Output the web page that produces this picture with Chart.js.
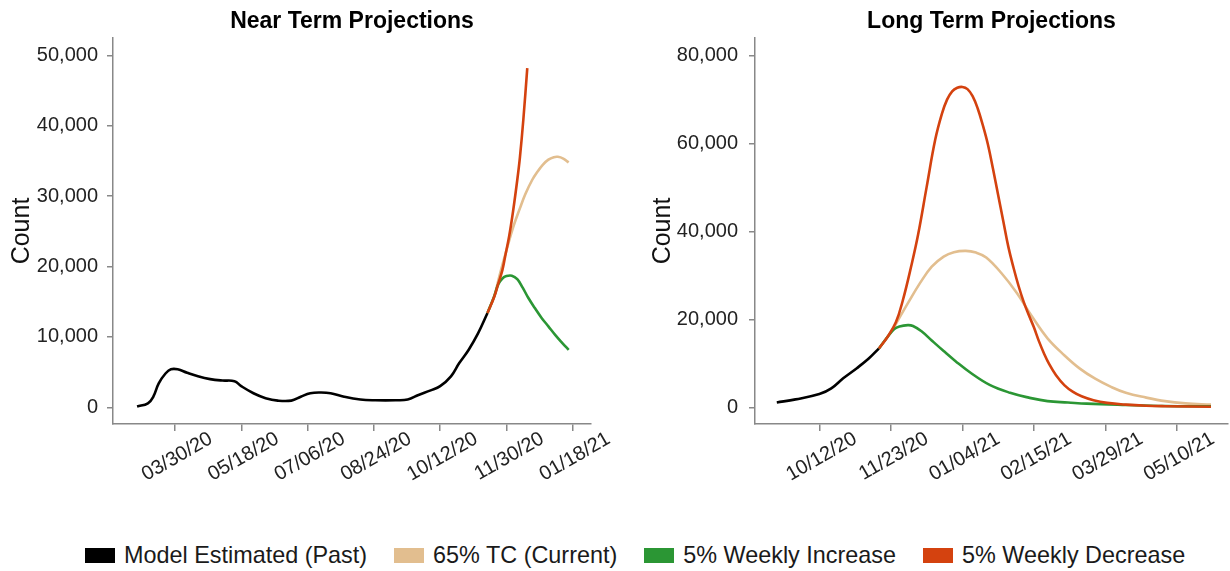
<!DOCTYPE html>
<html>
<head>
<meta charset="utf-8">
<script src="https://cdn.jsdelivr.net/npm/chart.js@4.4.1/dist/chart.umd.min.js"></script>
<style>
html,body{margin:0;padding:0;width:1230px;height:571px;overflow:hidden;background:#fff;font-family:'Liberation Sans',Arial,sans-serif;}
#a{position:absolute;left:0;top:0;}
#b{position:absolute;left:615px;top:0;}
#legend{position:absolute;left:85px;top:540px;height:30px;display:flex;align-items:center;font-size:23.4px;color:#1a1a1a;white-space:nowrap;}
.item{display:flex;align-items:center;margin-right:27px;}
.sw{width:30px;height:15px;margin-right:9px;}
</style>
</head>
<body>
<canvas id="a" width="615" height="500"></canvas>
<canvas id="b" width="615" height="500"></canvas>
<div id="legend"></div>
<script>
// Day numbers are days since 2020-03-30
const DAY0 = [2020, 3, 30];

const seriesNames = ['Model Estimated (Past)', '65% TC (Current)', '5% Weekly Increase', '5% Weekly Decrease'];
const seriesColors = ['#000000', '#E2BE8F', '#2B9634', '#D4420F'];

// ---- Near term panel ----
const nearTickLabels = ['03/30/20','05/18/20','07/06/20','08/24/20','10/12/20','11/30/20','01/18/21'];
const nearYTicks = [0, 10000, 20000, 30000, 40000, 50000];

const nearPastDays  = [-28,-20,-16,-12,-7,-3,2,9,17,26,35,44,49,58,67,76,86,93,100,108,115,125,137,148,163,172,180,189,196,204,210,217,224,231];
const nearPastCount = [100,570,1500,3400,4800,5400,5400,4900,4400,4000,3800,3700,3000,2000,1300,950,950,1500,2000,2100,2000,1500,1100,1000,1000,1100,1750,2400,3000,4400,6250,8150,10500,13400];

const nearTCDays  = [231,236,240,245,250,255,259,264,268,272,276,280,283,287,291];
const nearTCCount = [13400,15800,18800,22300,25600,28300,30300,32300,33500,34500,35200,35550,35600,35350,34800];

const nearIncDays  = [231,236,239,242,245,249,253,257,261,266,271,276,281,286,291];
const nearIncCount = [13400,15800,17500,18300,18650,18700,18200,17000,15600,14100,12700,11500,10300,9200,8150];

const nearDecDays  = [231,236,239,242,244,247,250,253,255,257.5,260.4];
const nearDecCount = [13400,15700,17600,19500,21400,24300,28000,32300,35600,40900,48200];

// ---- Long term panel ----
const longTickLabels = ['10/12/20','11/23/20','01/04/21','02/15/21','03/29/21','05/10/21'];
const longYTicks = [0, 20000, 40000, 60000, 80000];

const longPastDays  = [171,182,196,203,210,218,225,231];
const longPastCount = [1100,1800,3000,4300,6600,8900,11100,13400];

const longTCDays  = [231,236,238,241,248,255,262,269,275,282,288,294,303,312,321,330,340,349,358,367,376,388,399,411,426];
const longTCCount = [13400,16000,17000,19000,23700,28200,32000,34300,35300,35600,35200,34100,30500,26000,20600,15700,11800,8800,6500,4700,3300,2200,1400,900,600];

const longIncDays  = [231,236,240,243,248,251,256,262,269,276,285,296,308,319,330,342,353,376,399,426];
const longIncCount = [13400,16000,17800,18400,18700,18500,17300,15200,12800,10500,7800,5100,3300,2200,1400,1100,830,530,300,230];

const longDecDays  = [231,236,241,245,250,254,259,264,268,271,274,277,280,283,286,289,292,295,298,301,304,307,310,313,316,319,322,325,328,331,335,340,345,350,357,365,376,388,399,426];
const longDecCount = [13400,16000,19400,24300,32200,39300,50100,60800,66800,70000,71900,72700,72900,72400,70800,68000,64200,59800,54200,48300,42400,36500,31800,27600,24000,21000,18200,15000,12200,9800,7300,5000,3500,2500,1600,1000,600,350,250,120];

// ---- helpers ----
const FONT = "'Liberation Sans', Arial, Helvetica, sans-serif";
Chart.defaults.font.family = FONT;

function dayOf(label) {
  const [m, d, y] = label.split('/').map(Number);
  return Math.round((Date.UTC(2000 + y, m - 1, d) - Date.UTC(DAY0[0], DAY0[1] - 1, DAY0[2])) / 86400000);
}
function pts(xs, ys) { return xs.map((x, i) => ({x: x, y: ys[i]})); }

function makeChart(id, cfg) {
  const tickDays = cfg.tickLabels.map(dayOf);
  const labelMap = {};
  cfg.tickLabels.forEach((l, i) => { labelMap[tickDays[i]] = l; });
  const H = 500;
  const series = [
    [cfg.past[0], cfg.past[1]],
    [cfg.tc[0], cfg.tc[1]],
    [cfg.inc[0], cfg.inc[1]],
    [cfg.dec[0], cfg.dec[1]]
  ];
  const datasets = series.map((s, i) => ({
    label: seriesNames[i],
    data: pts(s[0], s[1]),
    borderColor: seriesColors[i],
    backgroundColor: seriesColors[i],
    borderWidth: 2.6,
    pointRadius: 0,
    tension: 0.4,
    fill: false
  }));
  return new Chart(document.getElementById(id), {
    type: 'line',
    data: { datasets: datasets.reverse() },
    options: {
      responsive: false,
      animation: false,
      layout: { padding: { left: 0, right: cfg.padRight, top: 0, bottom: 0 } },
      plugins: {
        legend: { display: false },
        tooltip: { enabled: false },
        title: {
          display: true, text: cfg.title, fullSize: false, color: '#000',
          font: { size: 23, weight: 'bold', family: FONT },
          padding: { top: 7.5, bottom: 2.9 }
        }
      },
      scales: {
        x: {
          type: 'linear', min: cfg.xMin, max: cfg.xMax,
          afterBuildTicks: s => { s.ticks = tickDays.map(v => ({ value: v })); },
          afterFit: s => { s.height = H - 424; },
          ticks: {
            autoSkip: false, minRotation: 30, maxRotation: 30, labelOffset: 36, padding: -4,
            color: '#222', font: { size: 20, family: FONT },
            callback: v => labelMap[v] !== undefined ? labelMap[v] : ''
          },
          grid: { display: true, drawOnChartArea: false, drawTicks: true, tickLength: 7, color: '#888', lineWidth: 1.5 },
          border: { display: true, color: '#888', width: 1.5 }
        },
        y: {
          min: cfg.yMin, max: cfg.yMax,
          afterBuildTicks: s => { s.ticks = cfg.yTicks.map(v => ({ value: v })); },
          afterFit: s => { s.width = cfg.yWidth; },
          ticks: {
            color: '#222', font: { size: 20, family: FONT }, padding: cfg.yTickPad,
            callback: v => Number(v).toLocaleString('en-US')
          },
          grid: { display: true, drawOnChartArea: false, drawTicks: true, tickLength: 6, color: '#888', lineWidth: 1.5 },
          border: { display: true, color: '#888', width: 1.5 },
          title: { display: true, text: 'Count', color: '#111', font: { size: 25, family: FONT }, padding: { top: cfg.yTitlePad, bottom: 0 } }
        }
      }
    }
  });
}

makeChart('a', {
  title: 'Near Term Projections', tickLabels: nearTickLabels, yTicks: nearYTicks,
  past: [nearPastDays, nearPastCount], tc: [nearTCDays, nearTCCount],
  inc: [nearIncDays, nearIncCount], dec: [nearDecDays, nearDecCount],
  xMin: -45.8, xMax: 307.5, yMin: -2375, yMax: 52480,
  yWidth: 113, padRight: 24, yTickPad: 9, yTitlePad: 7
});

makeChart('b', {
  title: 'Long Term Projections', tickLabels: longTickLabels, yTicks: longYTicks,
  past: [longPastDays, longPastCount], tc: [longTCDays, longTCCount],
  inc: [longIncDays, longIncCount], dec: [longDecDays, longDecCount],
  xMin: 158.2, xMax: 436, yMin: -3800, yMax: 84030,
  yWidth: 140, padRight: 2, yTickPad: 11, yTitlePad: 33
});

// shared legend
const legend = document.getElementById('legend');
seriesNames.forEach((name, i) => {
  const item = document.createElement('div');
  item.className = 'item';
  const sw = document.createElement('div');
  sw.className = 'sw';
  sw.style.background = seriesColors[i];
  const tx = document.createElement('span');
  tx.textContent = name;
  item.appendChild(sw);
  item.appendChild(tx);
  legend.appendChild(item);
});
</script>
</body>
</html>
